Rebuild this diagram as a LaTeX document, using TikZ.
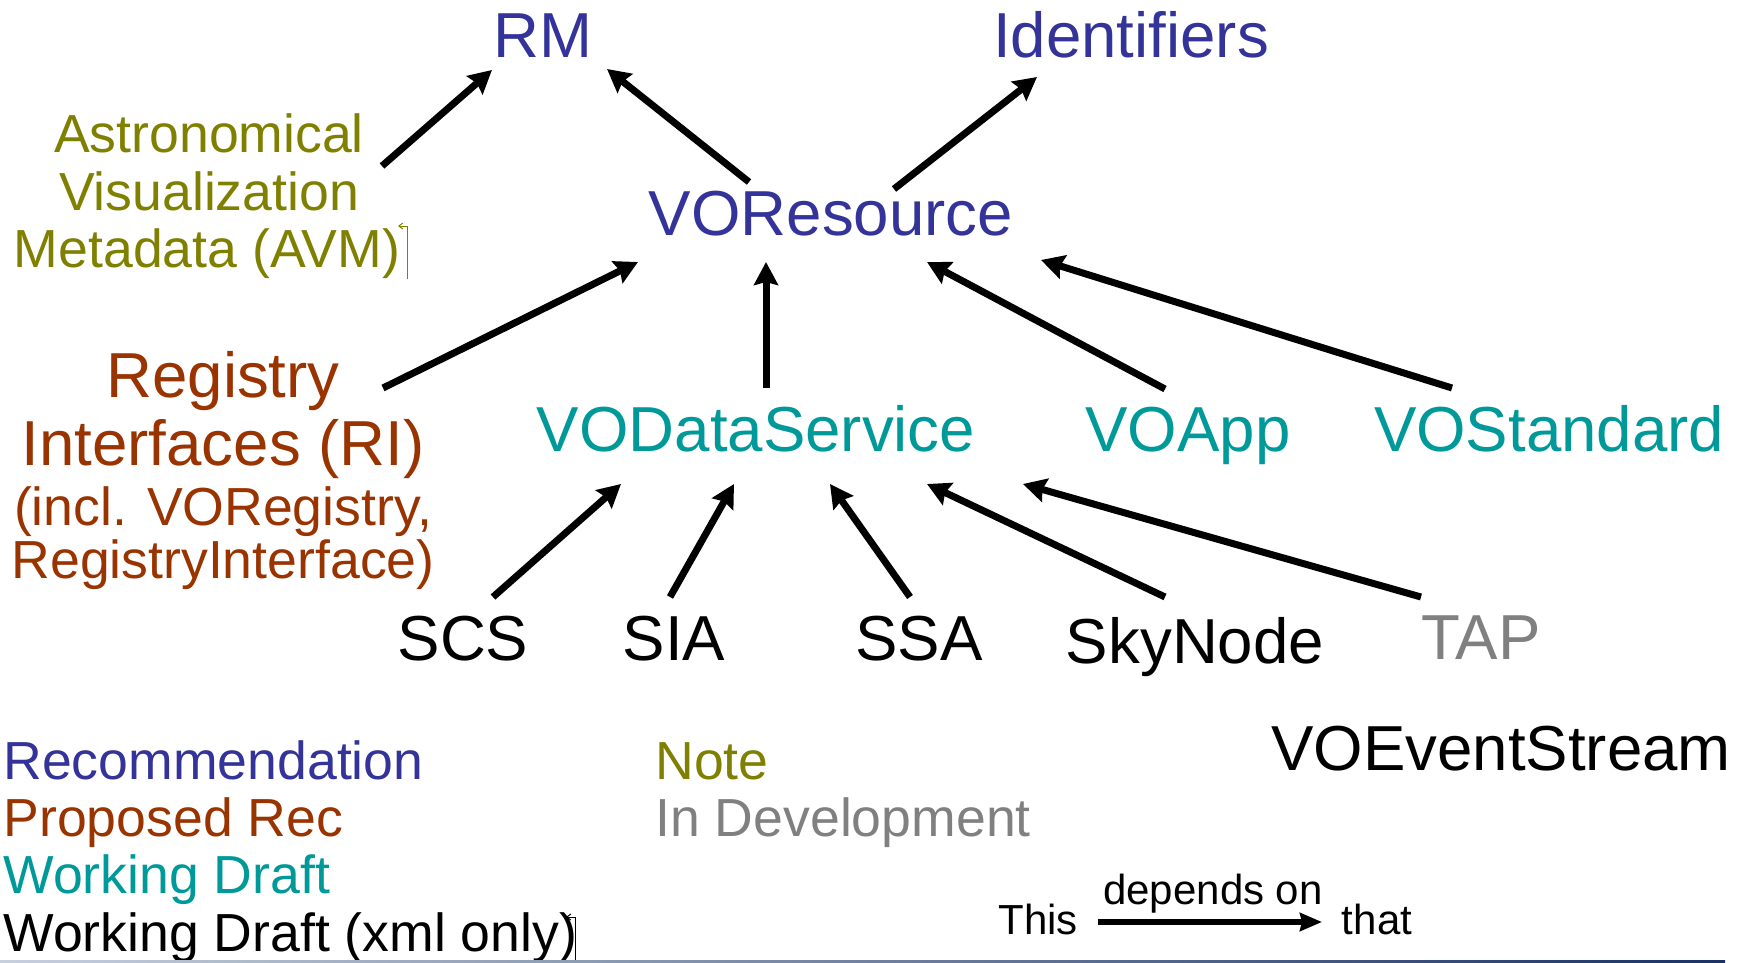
\documentclass[tikz,border=0pt]{standalone}
\usepackage{fontspec}
\setmainfont{Liberation Sans}
\usetikzlibrary{arrows.meta}
\definecolor{recblue}{RGB}{51,51,153}
\definecolor{noteolive}{RGB}{128,128,0}
\definecolor{prrust}{RGB}{153,51,0}
\definecolor{wdteal}{RGB}{0,153,153}
\definecolor{devgray}{RGB}{128,128,128}
\definecolor{lineleft}{RGB}{200,208,222}
\definecolor{lineright}{RGB}{25,50,100}
\tikzset{
  lbl/.style={inner sep=0pt, anchor=base},
  txtL/.style={lbl, font=\fontsize{31.8}{38}\selectfont},
  txtM/.style={lbl, font=\fontsize{26.8}{32}\selectfont},
  txtS/.style={lbl, font=\fontsize{21}{25}\selectfont},
  dep/.style={line width=3.5pt, -{Stealth[length=11.5pt,width=12pt,inset=1.5pt]}},
  editmark/.style={line width=0.5pt, {Straight Barb[length=2pt,width=3pt]}-}
}
\begin{document}
\begin{tikzpicture}[x=0.5pt,y=-0.5pt]
\useasboundingbox (0,0) rectangle (1745,963);

% --- nodes
\node[txtL, text=recblue] (rm) at (543,58) {RM};
\node[txtL, text=recblue] (ident) at (1131,58) {Identifiers};
\node[txtM, text=noteolive] (avm1) at (209,153) {Astronomical};
\node[txtM, text=noteolive] (avm2) at (209,210) {Visualization};
\node[txtM, text=noteolive] (avm3) at (207,267) {Metadata (AVM)};
\node[txtL, text=recblue] (vores) at (831,235) {VOResource};
\node[txtL, text=prrust] (ri1) at (223,397) {Registry};
\node[txtL, text=prrust] (ri2) at (223,465) {Interfaces (RI)};
\node[txtM, text=prrust] (ri3) at (223,525) {(incl. VORegistry,};
\node[txtM, text=prrust] (ri4) at (223,578) {RegistryInterface)};
\node[txtL, text=wdteal] (vods) at (756,451) {VODataService};
\node[txtL, text=wdteal] (voapp) at (1188,451) {VOApp};
\node[txtL, text=wdteal] (vostd) at (1549,451) {VOStandard};
\node[txtL] (scs) at (463,660) {SCS};
\node[txtL] (sia) at (674,660) {SIA};
\node[txtL] (ssa) at (919,660) {SSA};
\node[txtL] (sky) at (1195,663) {SkyNode};
\node[txtL, text=devgray] (tap) at (1481,659) {TAP};
\node[txtL] (voev) at (1501,770) {VOEventStream};

% --- legend
\node[txtM, text=recblue, anchor=base west] (lrec) at (3,779) {Recommendation};
\node[txtM, text=prrust, anchor=base west] (lpr) at (3,836) {Proposed Rec};
\node[txtM, text=wdteal, anchor=base west] (lwd) at (3,893) {Working Draft};
\node[txtM, anchor=base west] (lwdx) at (3,951) {Working Draft (xml only)};
\node[txtM, text=noteolive, anchor=base west] (lnote) at (655,779) {Note};
\node[txtM, text=devgray, anchor=base west] (ldev) at (655,836) {In Development};
\node[txtS] (lthis) at (1038,934) {This};
\node[txtS] (ldep) at (1213,904) {depends on};
\node[txtS] (lthat) at (1377,934) {that};

% --- connector end points
\coordinate (avm-o) at (382,166);   \coordinate (rm-i1) at (492,70);
\coordinate (vor-o1) at (749,182);  \coordinate (rm-i2) at (607,69);
\coordinate (vor-o2) at (894,189);  \coordinate (id-i) at (1037,77);
\coordinate (ri-o) at (383,388);    \coordinate (vor-i1) at (638,262);
\coordinate (vods-o) at (766,388);  \coordinate (vor-i2) at (766,262);
\coordinate (voapp-o) at (1165,389);\coordinate (vor-i3) at (927,262);
\coordinate (vostd-o) at (1452,388);\coordinate (vor-i4) at (1041,260);
\coordinate (scs-o) at (493,597);   \coordinate (vods-i1) at (621,484);
\coordinate (sia-o) at (670,597);   \coordinate (vods-i2) at (734,484);
\coordinate (ssa-o) at (910,597);   \coordinate (vods-i3) at (830,484);
\coordinate (sky-o) at (1165,597);  \coordinate (vods-i4) at (927,484);
\coordinate (tap-o) at (1421,597);  \coordinate (vods-i5) at (1023,484);
\coordinate (leg-o) at (1098,922);  \coordinate (leg-i) at (1322,922);

% --- connectors
\draw[dep] (avm-o) -- (rm-i1);
\draw[dep] (vor-o1) -- (rm-i2);
\draw[dep] (vor-o2) -- (id-i);
\draw[dep] (ri-o) -- (vor-i1);
\draw[dep] (vods-o) -- (vor-i2);
\draw[dep] (voapp-o) -- (vor-i3);
\draw[dep] (vostd-o) -- (vor-i4);
\draw[dep] (scs-o) -- (vods-i1);
\draw[dep] (sia-o) -- (vods-i2);
\draw[dep] (ssa-o) -- (vods-i3);
\draw[dep] (sky-o) -- (vods-i4);
\draw[dep] (tap-o) -- (vods-i5);
\draw[line width=2.7pt, -{Stealth[length=11pt,width=9pt,inset=1pt]}] (leg-o) -- (leg-i);

% --- small edit marks
\draw[editmark, draw=noteolive] (398,226) -- (407,226) -- (407,279);
\draw[editmark] (566,917) -- (575,917) -- (575,962);

% --- bottom rule
\shade[left color=lineleft, right color=lineright] (0,960.5) rectangle (1725,962.8);
\end{tikzpicture}
\end{document}
